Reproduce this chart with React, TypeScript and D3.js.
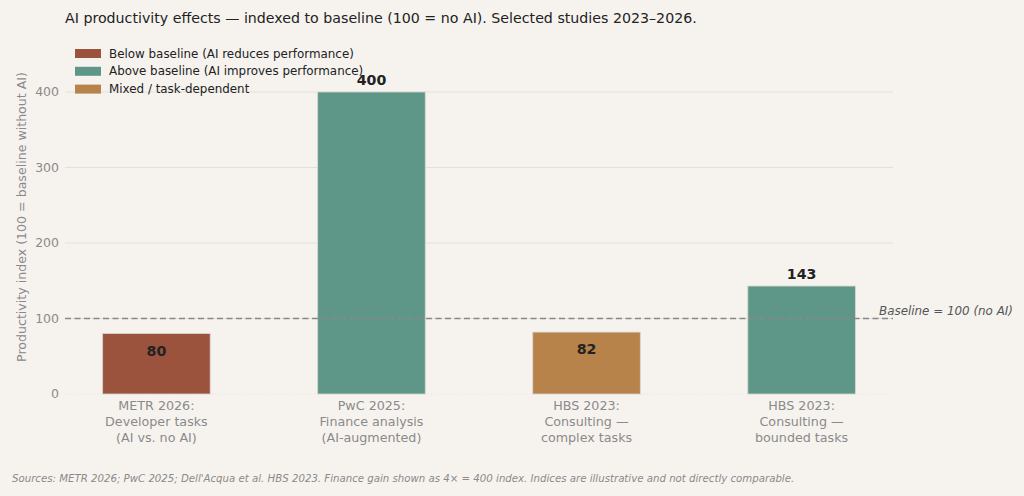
import React from "react";
import * as d3 from "d3";

const categories = [
  ["METR 2026:", "Developer tasks", "(AI vs. no AI)"],
  ["PwC 2025:", "Finance analysis", "(AI-augmented)"],
  ["HBS 2023:", "Consulting —", "complex tasks"],
  ["HBS 2023:", "Consulting —", "bounded tasks"],
];
const values = [80, 400, 82, 143];
const kinds = ["below", "above", "mixed", "above"];
const yTicks = [0, 100, 200, 300, 400];
const legendItems = [
  { key: "below", label: "Below baseline (AI reduces performance)" },
  { key: "above", label: "Above baseline (AI improves performance)" },
  { key: "mixed", label: "Mixed / task-dependent" },
];
const colors: Record<string, string> = {
  below: "#9c533e",
  above: "#5e9787",
  mixed: "#b8834a",
};
const baseline = 100;
const title = "AI productivity effects — indexed to baseline (100 = no AI). Selected studies 2023–2026.";
const yLabel = "Productivity index (100 = baseline without AI)";
const baselineLabel = "Baseline = 100 (no AI)";
const footer =
  "Sources: METR 2026; PwC 2025; Dell'Acqua et al. HBS 2023. Finance gain shown as 4× = 400 index. Indices are illustrative and not directly comparable.";

const W = 1024;
const H = 496;
const left = 65;
const right = 893;
const bottom = 394;
const font = "DejaVu Sans, sans-serif";

export default function App() {
  const x = d3.scaleLinear().domain([-0.425, 3.425]).range([left, right]);
  const y = d3.scaleLinear().domain([0, 400]).range([bottom, 92]);
  const bw = x(0.25) - x(-0.25);
  return (
    <svg
      width={W}
      height={H}
      style={{ position: "absolute", left: 0, top: 0, background: "#f6f3ef" }}
      fontFamily={font}
    >
      <rect x={0} y={0} width={W} height={H} fill="#f6f3ef" />
      <text x={65} y={23} fontSize={14.2} fill="#222">
        {title}
      </text>
      {yTicks.map((t) => (
        <g key={t}>
          <line
            x1={left}
            x2={right}
            y1={y(t)}
            y2={y(t)}
            stroke="#e4dfd9"
            strokeWidth={t === 0 ? 0.8 : 1}
            strokeDasharray={t === 0 ? "1,2" : undefined}
          />
          <text x={59} y={y(t)} dy="0.35em" textAnchor="end" fontSize={12.5} fill="#8a8a8a">
            {t}
          </text>
        </g>
      ))}
      <text
        transform={`translate(22,${(bottom + 40) / 2}) rotate(-90)`}
        textAnchor="middle"
        dy="0.35em"
        fontSize={12.6}
        fill="#8a8a8a"
      >
        {yLabel}
      </text>
      {values.map((v, i) => (
        <rect
          key={i}
          x={x(i) - bw / 2}
          y={y(v)}
          width={bw}
          height={y(0) - y(v)}
          fill={colors[kinds[i]]}
          stroke="#d8d4cf"
          strokeWidth={0.8}
        />
      ))}
      <line
        x1={left}
        x2={right}
        y1={y(baseline)}
        y2={y(baseline)}
        stroke="#888"
        strokeWidth={1.6}
        strokeDasharray="6,3.5"
      />
      <text x={879} y={y(baseline) - 8} dy="0.35em" fontSize={11.9} fontStyle="italic" fill="#555">
        {baselineLabel}
      </text>
      {values.map((v, i) => {
        const cy = v >= baseline ? y(v + 16) : y(v - 23);
        return (
          <text
            key={i}
            x={x(i)}
            y={cy}
            dy="0.35em"
            textAnchor="middle"
            fontSize={14.2}
            fontWeight="bold"
            fill="#222"
          >
            {v}
          </text>
        );
      })}
      {categories.map((lines, i) => (
        <text key={i} x={x(i)} y={410} textAnchor="middle" fontSize={12.7} fill="#8a8a8a">
          {lines.map((l, j) => (
            <tspan key={j} x={x(i)} dy={j === 0 ? 0 : 16}>
              {l}
            </tspan>
          ))}
        </text>
      ))}
      {legendItems.map((it, i) => (
        <g key={it.key}>
          <rect x={75} y={49 + i * 17.8} width={26} height={9} fill={colors[it.key]} />
          <text x={109} y={53.5 + i * 17.8} dy="0.35em" fontSize={11.9} fill="#222">
            {it.label}
          </text>
        </g>
      ))}
      <text x={12} y={482} fontSize={10.2} fontStyle="italic" fill="#8a8a8a">
        {footer}
      </text>
    </svg>
  );
}
